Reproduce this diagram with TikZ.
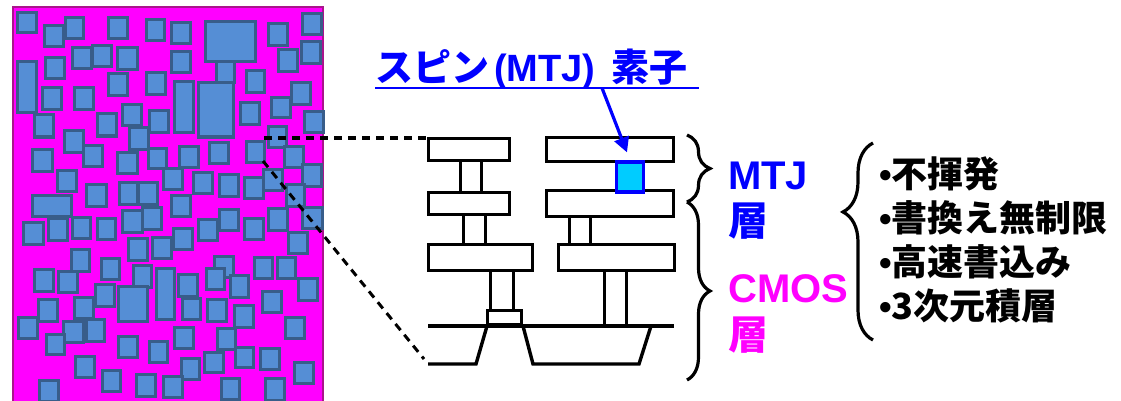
\documentclass[tikz,border=0pt]{standalone}
\usepackage{fontspec}
\setmainfont{Liberation Sans}
\newfontfamily\jp{Noto Sans CJK JP Bold}
\usetikzlibrary{decorations.pathreplacing,arrows.meta}

\definecolor{chipbg}{RGB}{255,0,255}
\definecolor{chipedge}{RGB}{170,20,140}
\definecolor{cellfill}{RGB}{85,142,213}
\definecolor{celledge}{RGB}{56,93,138}
\definecolor{spinblue}{RGB}{0,0,255}
\definecolor{spincyan}{RGB}{0,204,255}

\begin{document}
\begin{tikzpicture}[x=1pt,y=-1pt]
	\tikzset{
		cell/.style={draw=celledge, fill=cellfill, line width=3pt},
		metal/.style={draw=black, fill=white, line width=3.4pt},
		wire/.style={black, line width=3.4pt},
		zoomline/.style={black, line width=3pt, dash pattern=on 8pt off 6pt},
		layerbrace/.style={decorate, decoration={brace, amplitude=23pt}, line width=3.2pt},
		biglbl/.style={anchor=base west, inner sep=0pt, font=\fontsize{40}{46}\selectfont\bfseries},
		item/.style={anchor=base west, inner sep=0pt, font=\fontsize{36}{44}\selectfont\bfseries},
	}
	\useasboundingbox (0,0) rectangle (1121,401);
	
	%% CHIP (top view)
	\fill[chipbg] (13,7) rectangle (323,405);
	\draw[chipedge, line width=2pt] (13,405) -- (13,7) -- (323,7) -- (323,405);
	\foreach \xa/\ya/\xb/\yb in {
		17/13/36/33, 44/26/63/47, 65/18/83/39, 108/18/127/39, 146/20/164/41,
		171/23/190/44, 205/22/255/62, 216/62/234/83, 268/24/287/46, 302/14/321/35,
		72/48/91/69, 92/46/111/67, 117/48/137/70, 45/58/64/79, 171/52/190/73,
		278/50/297/72, 301/42/320/64, 17/62/36/113, 42/88/61/110, 74/88/93/110,
		108/74/127/96, 146/73/165/95, 174/82/193/133, 198/83/233/137, 246/71/264/93,
		291/83/310/105, 240/103/259/125, 271/98/290/118, 304/112/323/133, 34/115/53/137,
		122/105/141/126, 97/114/116/136, 149/111/168/133, 64/131/83/152, 129/128/148/149,
		83/145/102/166, 32/149/52/171, 117/152/137/173, 148/148/166/168, 179/146/198/167,
		209/142/228/163, 246/141/264/162, 268/127/286/147, 284/146/303/167, 302/164/321/186,
		57/170/76/191, 163/168/182/189, 193/172/212/193, 219/174/238/196, 244/177/263/198,
		263/169/282/190, 286/184/304/206, 32/195/71/216, 86/184/106/206, 119/182/137/204,
		138/182/157/204, 171/195/190/216,
		302/207/322/228, 23/222/43/244, 48/218/67/240, 72/217/90/238, 97/218/115/239,
		122/210/142/232, 142/207/161/229, 173/228/192/249, 198/219/217/240, 219/209/238/230,
		244/218/263/239, 268/208/287/230, 288/232/307/253, 128/238/147/260, 152/237/171/258,
		71/249/89/271, 101/258/119/279, 34/269/53/291, 58/271/77/292, 133/265/151/287,
		156/268/174/319, 178/274/197/296, 214/256/233/277, 206/268/224/289, 230/275/248/297,
		254/257/272/278, 277/257/295/278, 298/278/317/300, 95/284/114/306, 118/286/147/321,
		38/299/57/321, 74/297/93/318, 182/298/200/319, 207/299/226/321, 234/305/253/327,
		262/291/281/312, 18/317/37/338, 63/321/83/342, 86/319/104/341, 46/334/64/354,
		118/336/137/357, 149/341/167/362, 174/327/193/348, 217/328/235/349, 285/317/304/338,
		204/352/223/372, 235/347/253/367, 260/348/279/369, 181/358/199/379, 75/356/94/377,
		102/370/120/391, 294/362/313/383, 39/380/58/401, 136/374/155/396, 163/376/182/397,
		221/378/239/399, 265/378/284/400}
	\draw[cell] (\xa,\ya) rectangle (\xb,\yb);
	
	%% ZOOM LINES
	\coordinate (zoomA) at (264,138);
	\coordinate (zoomB) at (263,161);
	\coordinate (secTop) at (427,138);
	\coordinate (secBot) at (424,359);
	\draw[zoomline] (zoomA) -- (secTop);
	\draw[zoomline] (zoomB) -- (secBot);
	
	%% CROSS SECTION: vias
	\draw[metal] (460.5,160.5) rectangle (481.5,192.5);
	\draw[metal] (463.5,214.5) rectangle (485.5,244.5);
	\draw[metal] (490.5,270.5) rectangle (513.5,310.5);
	\draw[metal] (569.5,216.5) rectangle (590.5,244.5);
	\draw[metal] (604.5,270.5) rectangle (626.5,326);
	%% wiring layers
	\draw[metal] (428.5,138.5) rectangle (509.5,160.5);
	\draw[metal] (428.5,192.5) rectangle (509.5,214.5);
	\draw[metal] (428.5,244.5) rectangle (532.5,270.5);
	\draw[metal] (546.5,137.5) rectangle (673.5,161.5);
	\draw[metal] (546.5,190.5) rectangle (673.5,216.5);
	\draw[metal] (558.5,244.5) rectangle (674.5,270.5);
	%% substrate
	\draw[metal] (487.5,310.5) rectangle (521.5,325);
	\draw[wire] (428,326) -- (674,326);
	\draw[wire] (428,364) -- (476,364) -- (487,326);
	\draw[wire] (523,326) -- (533,364) -- (639,364) -- (651,326);
	
	%% MTJ ELEMENT
	\node[draw=spinblue, fill=spincyan, line width=3.2pt, minimum width=27pt, minimum height=30pt, inner sep=0pt] (mtj) at (630,177) {};
	\node[anchor=base west, inner sep=0pt, text=spinblue, font=\fontsize{38}{44}\selectfont\bfseries] (title) at (375,82) {{\jp スピン}\kern5pt(MTJ)\kern5pt{} {\jp 素子}};
	\draw[spinblue, line width=2.4pt] ([yshift=-6pt]title.base west) -- ([xshift=12pt,yshift=-6pt]title.base east);
	\coordinate (ptr) at (602,88);
	\draw[spinblue, line width=3.2pt, -{Triangle[length=15pt,width=15pt]}] (ptr) -- ([xshift=-3pt,yshift=8pt]mtj.north);
	
	%% LAYERS
	\draw[layerbrace] (687,135) -- (687,202);
	\draw[layerbrace] (687,202) -- (687,380);
	\node[biglbl, text=spinblue] (mtjlbl) at (728,189) {MTJ};
	\node[biglbl, text=spinblue] (mtjlyr) at (728,235) {\jp 層};
	\node[biglbl, text=chipbg] (cmoslbl) at (728,302) {CMOS};
	\node[biglbl, text=chipbg] (cmoslyr) at (728,349) {\jp 層};
	
	%% FEATURES
	\draw[decorate, decoration={brace, amplitude=30pt, aspect=0.65}, line width=3.2pt] (873,340) -- (873,143);
	\foreach \txt [count=\i] in {不揮発, 書換え無制限, 高速書込み, 3次元積層}
	\node[item] (feat\i) at (879,143+44*\i) {•{\jp \txt}};
	
\end{tikzpicture}
\end{document}
